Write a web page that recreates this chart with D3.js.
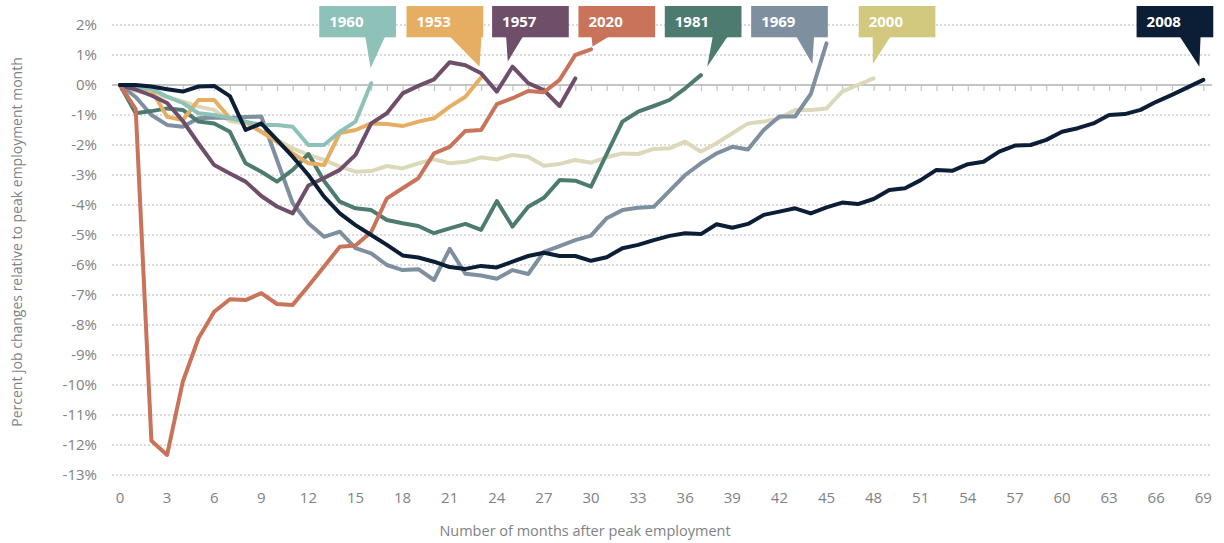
<!DOCTYPE html>
<html>
<head>
<meta charset="utf-8">
<script src="https://cdn.jsdelivr.net/npm/d3@7"></script>
<style>
  body { margin: 0; background: #fff; }
  svg text { font-family: "Open Sans", "DejaVu Sans", sans-serif; }
</style>
</head>
<body>
<svg id="chart" width="1224" height="543"></svg>
<script>
// months after peak (0..69) is the array index of each series
var s1953 = [0,-0.1,-0.17,-1.06,-1.17,-0.5,-0.5,-1.11,-1.22,-1.56,-1.89,-2.28,-2.61,-2.67,-1.6,-1.5,-1.28,-1.3,-1.37,-1.22,-1.11,-0.72,-0.39,0.25]
var s1957 = [0,-0.15,-0.35,-0.6,-1.2,-1.95,-2.67,-2.95,-3.22,-3.7,-4.05,-4.28,-3.35,-3.1,-2.83,-2.33,-1.28,-0.94,-0.28,-0.03,0.19,0.76,0.66,0.39,-0.22,0.61,0.06,-0.17,-0.7,0.22]
var s1960 = [0,-0.1,-0.12,-0.39,-0.6,-0.94,-1.0,-1.1,-1.22,-1.33,-1.33,-1.39,-2.0,-2.0,-1.56,-1.22,0.06]
var s1969 = [0,-0.4,-1.0,-1.33,-1.39,-1.11,-1.08,-1.1,-1.07,-1.05,-2.5,-3.94,-4.61,-5.06,-4.89,-5.44,-5.61,-6.0,-6.17,-6.14,-6.5,-5.46,-6.29,-6.35,-6.46,-6.17,-6.3,-5.56,-5.37,-5.17,-5.02,-4.44,-4.17,-4.09,-4.06,-3.53,-3.0,-2.61,-2.28,-2.06,-2.15,-1.5,-1.05,-1.05,-0.3,1.39]
var s1981 = [0,-0.94,-0.87,-0.78,-0.83,-1.22,-1.28,-1.56,-2.61,-2.89,-3.22,-2.83,-2.3,-3.2,-3.89,-4.11,-4.17,-4.5,-4.61,-4.7,-4.94,-4.78,-4.63,-4.83,-3.87,-4.72,-4.06,-3.76,-3.17,-3.19,-3.39,-2.3,-1.22,-0.89,-0.7,-0.5,-0.11,0.33]
var s2000 = [0,-0.2,-0.3,-0.4,-0.55,-0.72,-0.83,-1.2,-1.28,-1.56,-1.83,-2.11,-2.33,-2.5,-2.72,-2.89,-2.87,-2.7,-2.78,-2.61,-2.48,-2.61,-2.56,-2.41,-2.48,-2.33,-2.39,-2.69,-2.63,-2.5,-2.59,-2.41,-2.28,-2.3,-2.13,-2.11,-1.89,-2.22,-1.94,-1.61,-1.28,-1.22,-1.11,-0.83,-0.83,-0.78,-0.22,0,0.22]
var s2008 = [0,0,-0.05,-0.14,-0.22,-0.05,-0.03,-0.37,-1.5,-1.28,-1.83,-2.39,-3.0,-3.72,-4.28,-4.67,-5.0,-5.33,-5.68,-5.75,-5.89,-6.07,-6.13,-6.03,-6.08,-5.89,-5.7,-5.59,-5.7,-5.7,-5.86,-5.74,-5.44,-5.33,-5.17,-5.03,-4.94,-4.97,-4.64,-4.76,-4.63,-4.33,-4.22,-4.11,-4.28,-4.08,-3.92,-3.97,-3.8,-3.5,-3.44,-3.17,-2.83,-2.86,-2.64,-2.56,-2.22,-2.02,-2.0,-1.83,-1.56,-1.44,-1.28,-1.0,-0.97,-0.83,-0.56,-0.33,-0.08,0.17]
var s2020 = [0,-0.8,-11.86,-12.33,-9.89,-8.44,-7.56,-7.14,-7.17,-6.94,-7.3,-7.33,-6.7,-6.05,-5.39,-5.35,-4.9,-3.78,-3.44,-3.11,-2.28,-2.06,-1.53,-1.5,-0.64,-0.44,-0.2,-0.24,0.17,1.0,1.19]

var yTicks = d3.range(-13, 3, 1)
var xTicks = d3.range(0, 70, 3)

// drawing order (last on top)
var series = [
    { name: '2000', values: s2000, color: '#dcd8ba', box: '#d3c97e' },
    { name: '1969', values: s1969, color: '#7e909f', box: '#7e909f' },
    { name: '1981', values: s1981, color: '#4d7b6f', box: '#4d7b6f' },
    { name: '1953', values: s1953, color: '#e5ae62', box: '#e5ae62' },
    { name: '1960', values: s1960, color: '#8ec1b8', box: '#8ec1b8' },
    { name: '1957', values: s1957, color: '#6f4e6a', box: '#6f4e6a' },
    { name: '2020', values: s2020, color: '#c8735a', box: '#c8735a' },
    { name: '2008', values: s2008, color: '#0b1e36', box: '#0b1e36' }
]

// callouts: box left (month), tail base offsets from box left (px), tip (month, %)
var callouts = [
    { name: '1960', left: 12.69, t0: 46, t1: 66, tipM: 15.96, tipV: 0.56 },
    { name: '1953', left: 18.25, t0: 43, t1: 75, tipM: 22.9, tipV: 0.61 },
    { name: '1957', left: 23.7, t0: 14, t1: 31, tipM: 24.7, tipV: 0.78 },
    { name: '2020', left: 29.2, t0: 13, t1: 31, tipM: 30.1, tipV: 1.28 },
    { name: '1981', left: 34.7, t0: 48, t1: 63, tipM: 37.4, tipV: 0.61 },
    { name: '1969', left: 40.2, t0: 45, t1: 63, tipM: 44.1, tipV: 0.7 },
    { name: '2000', left: 47.05, t0: 14, t1: 32, tipM: 47.95, tipV: 0.7 },
    { name: '2008', left: 64.75, t0: 43, t1: 64, tipM: 68.75, tipV: 0.61 }
]

var svg = d3.select('#chart')
var x = d3.scaleLinear().domain([0, 69]).range([120, 1203.3])
var y = d3.scaleLinear().domain([-13, 2]).range([475, 25])
var gridX0 = 112, gridX1 = 1212

// dotted gridlines
svg.append('g')
    .selectAll('line')
    .data(yTicks.filter(function (d) { return d !== 0 }))
    .enter()
    .append('line')
    .attr('x1', gridX0).attr('x2', gridX1)
    .attr('y1', function (d) { return y(d) }).attr('y2', function (d) { return y(d) })
    .attr('stroke', '#b8b8b8')
    .attr('stroke-width', 1)
    .attr('stroke-dasharray', '2,2')

// zero line with monthly ticks
var axisG = svg.append('g').attr('transform', 'translate(0,' + y(0) + ')')
axisG.call(d3.axisBottom(x).tickValues(d3.range(0, 70, 1)).tickSize(6).tickFormat(''))
axisG.select('.domain').remove()
axisG.selectAll('.tick line').attr('stroke', '#c4c4c4').attr('stroke-width', 1.2)
axisG.append('line')
    .attr('x1', gridX0).attr('x2', gridX1)
    .attr('stroke', '#c4c4c4').attr('stroke-width', 2)

// y labels
svg.append('g')
    .selectAll('text')
    .data(yTicks)
    .enter()
    .append('text')
    .attr('x', 97)
    .attr('y', function (d) { return y(d) })
    .attr('dy', '0.35em')
    .attr('text-anchor', 'end')
    .attr('fill', '#808285')
    .style('font-size', '15px')
    .text(function (d) { return d + '%' })

// x labels
svg.append('g')
    .selectAll('text')
    .data(xTicks)
    .enter()
    .append('text')
    .attr('x', function (d) { return x(d) })
    .attr('y', 498)
    .attr('dy', '0.35em')
    .attr('text-anchor', 'middle')
    .attr('fill', '#808285')
    .style('font-size', '15px')
    .text(function (d) { return d })

// axis titles
svg.append('text')
    .attr('x', 585).attr('y', 536)
    .attr('text-anchor', 'middle')
    .attr('fill', '#808285')
    .style('font-size', '14.5px')
    .text('Number of months after peak employment')

svg.append('text')
    .attr('transform', 'translate(22,242) rotate(-90)')
    .attr('text-anchor', 'middle')
    .attr('fill', '#808285')
    .style('font-size', '14px')
    .text('Percent job changes relative to peak employment month')

// lines
var line = d3.line()
    .x(function (d, i) { return x(i) })
    .y(function (d) { return y(d) })

svg.append('g')
    .selectAll('path')
    .data(series)
    .enter()
    .append('path')
    .attr('d', function (d) { return line(d.values) })
    .attr('fill', 'none')
    .attr('stroke', function (d) { return d.color })
    .attr('stroke-width', 4)
    .attr('stroke-linejoin', 'round')
    .attr('stroke-linecap', 'round')

// callouts
var boxColor = {}
series.forEach(function (s) { boxColor[s.name] = s.box })
var boxW = 76.7, boxTop = 6, boxBottom = 37.3

var cg = svg.append('g')
    .selectAll('g')
    .data(callouts)
    .enter()
    .append('g')

cg.append('rect')
    .attr('x', function (d) { return x(d.left) })
    .attr('y', boxTop)
    .attr('width', boxW)
    .attr('height', boxBottom - boxTop)
    .attr('fill', function (d) { return boxColor[d.name] })

cg.append('path')
    .attr('d', function (d) {
        var l = x(d.left)
        return 'M' + (l + d.t0) + ',' + (boxBottom - 1) +
            'L' + (l + d.t1) + ',' + (boxBottom - 1) +
            'L' + x(d.tipM) + ',' + y(d.tipV) + 'Z'
    })
    .attr('fill', function (d) { return boxColor[d.name] })

cg.append('text')
    .attr('x', function (d) { return x(d.left) + 10 })
    .attr('y', 27)
    .attr('fill', '#fff')
    .style('font-size', '15px')
    .style('font-weight', '700')
    .text(function (d) { return d.name })
</script>
</body>
</html>
